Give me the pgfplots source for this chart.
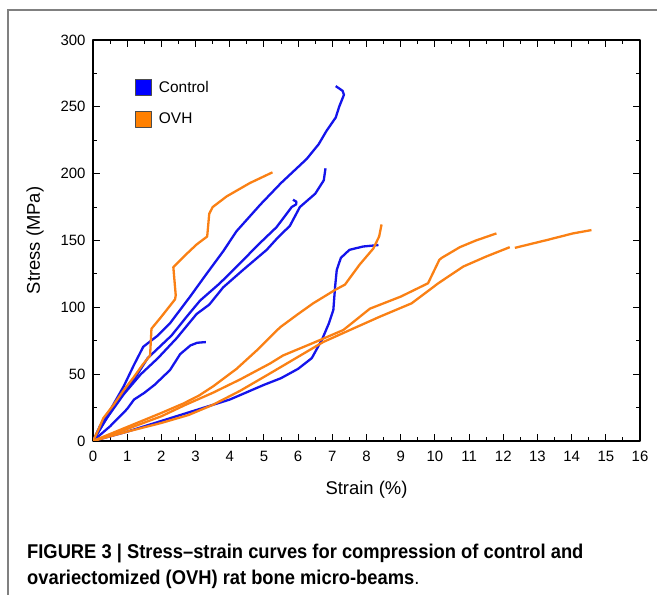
\documentclass[border=0pt]{standalone}
\usepackage{fontspec}
\setmainfont{Liberation Sans}
\newfontfamily\capfont[FakeStretch=0.92]{Liberation Sans}
\usepackage{pgfplots}
\pgfplotsset{compat=1.18}
\definecolor{cblue}{RGB}{20,20,235}
\definecolor{corange}{RGB}{250,128,20}
\definecolor{lblue}{RGB}{0,0,255}
\definecolor{lorange}{RGB}{255,128,0}

\begin{document}
\begin{tikzpicture}
\useasboundingbox (0bp,0bp) rectangle (657bp,595bp);
\draw[gray, line width=1.5bp] (8bp,-20bp) -- (8bp,585bp) -- (680bp,585bp);

\begin{axis}[
    at={(93bp,154bp)}, anchor=south west,
    scale only axis,
    width=547bp, height=401bp,
    xmin=0, xmax=16, ymin=0, ymax=300,
    xtick={0,1,...,16}, ytick={0,50,...,300},
    minor x tick num=1, minor y tick num=1,
    tick align=inside,
    major tick length=7bp, minor tick length=4bp,
    every tick/.style={black, line width=1bp},
    axis line style={line width=1.2bp},
    /pgf/number format/assume math mode=true,
    tick label style={font=\fontsize{15}{18}\selectfont},
    xticklabel style={yshift=-7bp},
    yticklabel style={xshift=-4bp},
    xlabel={Strain (\%)}, ylabel={Stress (MPa)},
    every axis x label/.style={at={(axis description cs:0.5,-0.122)}, anchor=center,
        font=\fontsize{18.5}{22}\selectfont},
    every axis y label/.style={at={(axis description cs:-0.106,0.5)}, rotate=90, anchor=center,
        font=\fontsize{18.5}{22}\selectfont},
    legend style={draw=none, fill=none, at={(axis cs:1.228,271)}, anchor=north west,
        font=\fontsize{15.5}{18}\selectfont, row sep=15bp, column sep=5bp, inner sep=0pt},
    legend cell align=left,
    legend image code/.code={\draw[#1] (0bp,-8bp) rectangle (16bp,8bp);},
    line join=round,
]
\addlegendimage{fill=lblue, draw=gray!60!black, line width=0.8bp}
\addlegendentry{Control}
\addlegendimage{fill=lorange, draw=gray!60!black, line width=0.8bp}
\addlegendentry{OVH}

% control
\addplot[cblue, line width=2.3bp, forget plot] coordinates {
 (0,0) (0.2,11) (0.5,23) (0.9,41) (1.2,57) (1.47,70.5) (1.9,79) (2.25,88) (2.84,108)
 (3.32,125) (3.81,142) (4.2,157) (4.9,177) (5.5,193) (6.25,211) (6.6,222) (6.83,232)
 (7.1,242) (7.2,250) (7.34,259) (7.3,262) (7.1,265.5)
};
\addplot[cblue, line width=2.3bp, forget plot] coordinates {
 (0,0) (0.4,17) (0.9,35) (1.4,50) (1.9,62) (2.45,77) (3.03,95) (3.4,102) (3.81,115)
 (4.39,128) (5.08,143) (5.4,152) (5.76,161) (6.05,175) (6.5,185) (6.75,195) (6.8,204)
};
\addplot[cblue, line width=2.3bp, forget plot] coordinates {
 (0,0) (0.3,13) (0.7,29) (1.2,46) (1.6,62) (2.3,79) (2.74,93) (3.13,105) (3.71,118)
 (4.3,133) (4.88,148) (5.37,160) (5.81,175) (5.94,177) (5.95,179) (5.85,180.5)
};
\addplot[cblue, line width=2.3bp, forget plot] coordinates {
 (0,0) (0.5,11) (1.0,24) (1.2,31) (1.5,36) (1.8,42) (2.25,53) (2.55,65) (2.85,71.5)
 (3.05,73.5) (3.3,74)
};
\addplot[cblue, line width=2.3bp, forget plot] coordinates {
 (0,0) (1,7) (2,15) (3,23) (4,31) (5,42) (5.5,47) (6.0,54) (6.4,62) (6.7,76) (6.9,88)
 (7.03,98) (7.08,115) (7.13,128) (7.25,137) (7.5,143) (7.9,145.5) (8.35,146.6)
};

% OVH
\addplot[corange, line width=2.3bp, forget plot] coordinates {
 (0,0) (0.15,8) (0.3,17) (0.6,27) (0.9,38) (1.2,48) (1.45,57) (1.67,64) (1.71,84)
 (2.0,93) (2.4,106) (2.42,109) (2.35,130) (2.74,140) (3.03,147) (3.34,153) (3.4,170)
 (3.5,175) (3.91,183) (4.59,193) (5.25,201)
};
\addplot[corange, line width=2.3bp, forget plot] coordinates {
 (0,0) (1.0,10.5) (2.0,21) (2.64,28) (3.1,34) (3.52,41) (4.2,54) (4.8,68) (5.47,85)
 (6.0,95) (6.44,103) (7.08,113) (7.37,117) (7.8,132) (8.2,144) (8.37,153) (8.44,162)
};
\addplot[corange, line width=2.3bp, forget plot] coordinates {
 (0,0) (1,9) (2,18.5) (2.7,27) (3.5,36) (4.3,46) (5.18,58) (5.56,64) (6.5,74) (7.32,83)
 (8.1,99) (9.0,108) (9.8,118) (10.13,135.5) (10.2,137) (10.73,145) (11.2,150) (11.8,155.3)
};
\addplot[corange, line width=2.3bp, forget plot] coordinates {
 (0,0) (1,7) (2,13.5) (2.8,19.5) (3.5,27) (4.3,37.5) (5.18,50.6) (6.73,74) (7.6,84)
 (8.39,93) (9.32,103) (10.1,118) (10.83,130.5) (11.5,138) (12.19,145)
};
\addplot[corange, line width=2.3bp, forget plot] coordinates {
 (12.34,144.5) (13.27,150.3) (14.04,155.3) (14.58,157.8)
};
\end{axis}

\node[anchor=base west, inner sep=0pt, font=\fontsize{20}{24}\capfont\bfseries] at (27bp,37bp)
  {FIGURE 3 | Stress–strain curves for compression of control and};
\node[anchor=base west, inner sep=0pt, font=\fontsize{20}{24}\capfont] at (27bp,11bp)
  {{\bfseries ovariectomized (OVH) rat bone micro-beams}.};
\end{tikzpicture}
\end{document}
